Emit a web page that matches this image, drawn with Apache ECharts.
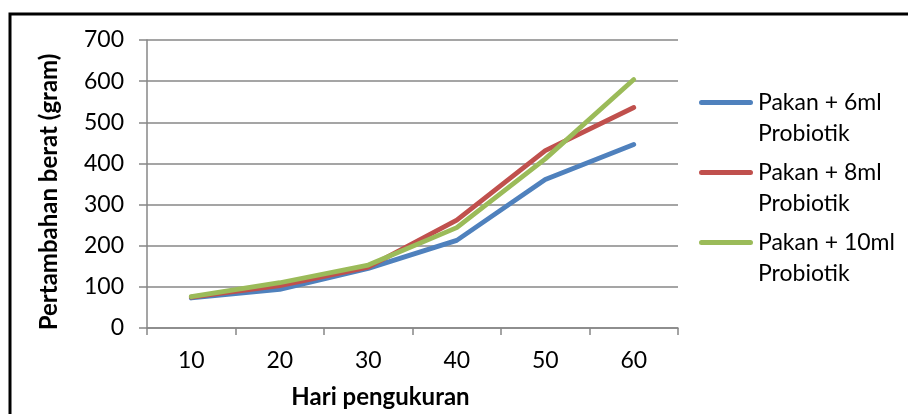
<!DOCTYPE html>
<html>
<head>
<meta charset="utf-8">
<title>Pertambahan berat</title>
<script src="https://cdn.jsdelivr.net/npm/echarts@6/dist/echarts.min.js"></script>
<style>
  html, body { margin: 0; padding: 0; background: #fff; }
  #chart { width: 908px; height: 414px; }
</style>
</head>
<body>
<div id="chart"></div>
<script>
// Measurement days
const days = ['10', '20', '30', '40', '50', '60'];

// Weight gain (gram) per feed treatment
const pakan6ml = [73, 94, 145, 213, 361, 446];
const pakan8ml = [75, 103, 148, 262, 431, 536];
const pakan10ml = [76, 110, 153, 244, 411, 604];

// Legend / series names
const seriesNames = [
  'Pakan + 6ml\nProbiotik',
  'Pakan + 8ml\nProbiotik',
  'Pakan + 10ml\nProbiotik'
];

const FONT = 'Lato';

// Legend swatch: a rounded bar level with the first text line; the two
// hair-sized dots only stretch the icon box to the full two-line height.
const LEGEND_ICON = 'path://M0,0h0.01v0.01h-0.01Z' +
  'M2.5,13h49a2.5,2.5 0 0 1 0,5h-49a2.5,2.5 0 0 1 0,-5Z' +
  'M0,61.99h0.01v0.01h-0.01Z';

const chart = echarts.init(document.getElementById('chart'), null, { renderer: 'canvas' });

function lineSeries(name, data, color) {
  return {
    name: name,
    type: 'line',
    data: data,
    symbol: 'none',
    smooth: false,
    color: color,
    lineStyle: { width: 4.8, color: color, cap: 'round', join: 'round' },
    emphasis: { disabled: true }
  };
}

chart.setOption({
  animation: false,
  backgroundColor: '#fff',
  textStyle: { fontFamily: FONT, color: '#000' },
  graphic: [{
    type: 'rect',
    shape: { x: 10, y: 14, width: 1000, height: 500 },
    style: { fill: 'none', stroke: '#000', lineWidth: 3 },
    silent: true
  }],
  grid: { left: 147, right: 230, top: 40, bottom: 86, containLabel: false },
  legend: {
    orient: 'vertical',
    left: 699,
    top: 87,
    padding: 0,
    itemWidth: 54,
    itemHeight: 62,
    itemGap: 8,
    icon: LEGEND_ICON,
    textStyle: {
      fontFamily: FONT,
      fontSize: 23,
      color: '#000',
      lineHeight: 31
    },
    data: seriesNames
  },
  xAxis: {
    type: 'category',
    data: days,
    boundaryGap: true,
    name: 'Hari pengukuran',
    nameLocation: 'middle',
    nameGap: 57,
    nameTextStyle: {
      fontFamily: FONT, fontSize: 24, fontWeight: 'bold', color: '#000',
      padding: [0, 64, 0, 0]
    },
    axisLine: { show: true, lineStyle: { color: '#878787', width: 1.5 } },
    axisTick: { show: true, length: 7, alignWithLabel: false, lineStyle: { color: '#878787', width: 1.5 } },
    axisLabel: { fontFamily: FONT, fontSize: 23, color: '#000', margin: 21 },
    splitLine: { show: false }
  },
  yAxis: {
    type: 'value',
    min: 0,
    max: 700,
    interval: 100,
    name: 'Pertambahan berat (gram)',
    nameLocation: 'middle',
    nameGap: 86,
    nameTextStyle: {
      fontFamily: FONT, fontSize: 24, fontWeight: 'bold', color: '#000',
      padding: [0, 16, 0, 0]
    },
    axisLine: { show: true, lineStyle: { color: '#878787', width: 1.5 } },
    axisTick: { show: true, length: 8, lineStyle: { color: '#878787', width: 1.5 } },
    axisLabel: { fontFamily: FONT, fontSize: 23, color: '#000', margin: 23 },
    splitLine: { show: true, lineStyle: { color: '#878787', width: 1.5 } }
  },
  series: [
    lineSeries(seriesNames[0], pakan6ml, '#4F81BD'),
    lineSeries(seriesNames[1], pakan8ml, '#C0504D'),
    lineSeries(seriesNames[2], pakan10ml, '#9BBB59')
  ]
});
</script>
</body>
</html>
